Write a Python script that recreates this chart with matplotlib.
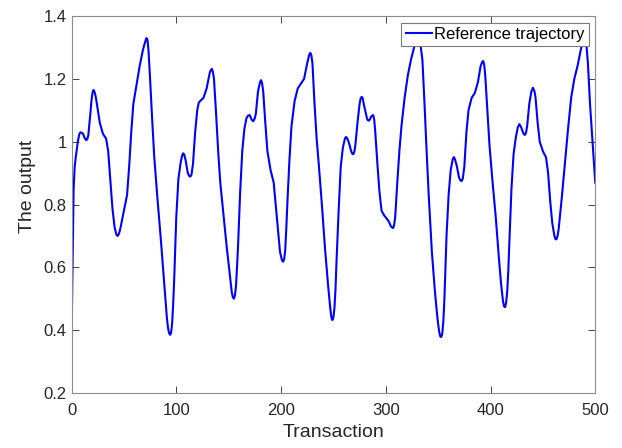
import numpy as np
import matplotlib
matplotlib.use("Agg")
import matplotlib.pyplot as plt
from matplotlib.ticker import FormatStrFormatter

# points (transaction, output)
transaction = [0, 1, 2, 3, 4, 6, 7.5, 8.5, 10, 11, 12.5, 14, 15, 16, 18, 19, 20, 21, 22, 23,
               24, 27, 30, 33, 35, 37, 39, 41, 42, 43, 44, 45, 46, 47, 50, 53, 55, 57, 59, 62,
               65, 68, 70, 71.5, 72.5, 73.5, 75, 77, 79, 82, 85, 88, 90, 91, 92, 93, 94, 95, 96, 97,
               98, 100, 102, 104, 105.5, 106.5, 107.5, 109, 111, 112.5, 113.5, 114.5, 116, 118, 120, 121.5, 123, 126, 129, 132,
               133, 134, 135, 136, 138, 140, 142, 145, 148, 151, 153, 154, 155, 156, 157, 158, 159, 161, 163, 165,
               167, 168.5, 170, 172, 173.5, 175, 176, 178, 180, 181, 182, 183, 185, 187, 190, 193, 196, 199, 200, 201,
               202, 203, 204, 205, 206, 208, 210, 213, 216, 219, 222, 225, 227, 228, 229, 230, 232, 234, 236, 239,
               242, 245, 247, 248, 249, 250, 251, 252, 253, 255, 257, 259, 261, 262, 263, 264.5, 267, 268, 269, 270,
               271, 273, 275, 276, 277, 278, 279, 282, 283, 284, 285, 286, 288, 289, 290, 292, 294, 296, 298.5, 301,
               303, 305, 307, 308, 309, 311, 313, 315, 318, 321, 324, 327, 330, 332, 335, 337, 339, 341, 344, 347,
               349, 350, 351, 352, 353, 354, 355, 356, 358, 360, 362, 364, 365, 366, 368, 370, 371.5, 372.5, 373.5, 375,
               377, 379, 382, 385, 388, 390.5, 392, 393, 394, 395, 397, 399, 402, 405, 408, 410, 411, 412, 413, 414,
               415, 416, 417, 418, 420, 422, 424, 426, 427.5, 429, 431, 432, 433, 434, 435, 437, 439, 440.5, 442, 443,
               445, 447, 450, 453, 455, 457, 459, 460, 461, 462, 463, 464, 465, 468, 471, 474, 477, 480, 483, 486,
               489, 491, 493, 495, 497, 500]
output = [0.37, 0.62, 0.85, 0.92, 0.95, 1.00, 1.025, 1.03, 1.028, 1.025, 1.012, 1.005, 1.008, 1.02, 1.09, 1.13, 1.155, 1.165, 1.158, 1.145,
          1.125, 1.06, 1.025, 1.01, 0.97, 0.88, 0.79, 0.73, 0.715, 0.703, 0.70, 0.705, 0.715, 0.73, 0.78, 0.83, 0.92, 1.03, 1.12, 1.18,
          1.24, 1.29, 1.315, 1.33, 1.325, 1.29, 1.20, 1.07, 0.95, 0.82, 0.70, 0.57, 0.48, 0.44, 0.41, 0.392, 0.385, 0.39, 0.42, 0.48,
          0.56, 0.76, 0.88, 0.93, 0.955, 0.963, 0.96, 0.94, 0.90, 0.89, 0.889, 0.895, 0.93, 1.03, 1.10, 1.125, 1.13, 1.14, 1.17, 1.22,
          1.228, 1.232, 1.222, 1.20, 1.09, 0.97, 0.87, 0.77, 0.67, 0.58, 0.52, 0.505, 0.50, 0.51, 0.54, 0.60, 0.67, 0.84, 0.97, 1.04,
          1.075, 1.083, 1.085, 1.07, 1.065, 1.075, 1.09, 1.16, 1.19, 1.196, 1.185, 1.16, 1.06, 0.97, 0.91, 0.87, 0.76, 0.65, 0.635, 0.622,
          0.618, 0.625, 0.655, 0.72, 0.80, 0.94, 1.05, 1.13, 1.17, 1.185, 1.20, 1.25, 1.278, 1.283, 1.275, 1.25, 1.12, 1.01, 0.93, 0.80,
          0.66, 0.54, 0.47, 0.442, 0.432, 0.44, 0.47, 0.53, 0.62, 0.78, 0.92, 0.98, 1.01, 1.015, 1.012, 1.00, 0.97, 0.962, 0.96, 0.968,
          0.99, 1.06, 1.12, 1.138, 1.143, 1.138, 1.12, 1.075, 1.068, 1.067, 1.072, 1.08, 1.085, 1.07, 1.03, 0.93, 0.84, 0.78, 0.765, 0.755,
          0.745, 0.73, 0.725, 0.735, 0.76, 0.87, 0.97, 1.05, 1.14, 1.21, 1.26, 1.30, 1.33, 1.34, 1.26, 1.12, 0.97, 0.83, 0.65, 0.52,
          0.45, 0.42, 0.395, 0.38, 0.378, 0.39, 0.43, 0.50, 0.70, 0.83, 0.91, 0.945, 0.951, 0.945, 0.92, 0.885, 0.876, 0.875, 0.882, 0.92,
          1.03, 1.10, 1.14, 1.155, 1.19, 1.24, 1.254, 1.257, 1.245, 1.21, 1.10, 0.99, 0.87, 0.76, 0.63, 0.55, 0.52, 0.49, 0.475, 0.473,
          0.49, 0.525, 0.59, 0.68, 0.85, 0.96, 1.01, 1.045, 1.056, 1.048, 1.03, 1.023, 1.022, 1.03, 1.05, 1.12, 1.16, 1.172, 1.16, 1.14,
          1.06, 1.00, 0.97, 0.95, 0.90, 0.81, 0.74, 0.72, 0.70, 0.69, 0.689, 0.70, 0.72, 0.82, 0.93, 1.04, 1.14, 1.20, 1.24, 1.29,
          1.33, 1.33, 1.25, 1.12, 1.02, 0.87]

x_ticks = [0, 100, 200, 300, 400, 500]
y_ticks = [0.2, 0.4, 0.6, 0.8, 1.0, 1.2, 1.4]

plt.rcParams["font.family"] = ["Liberation Sans", "DejaVu Sans"]

fig = plt.figure(figsize=(6.22, 4.48), dpi=100)
ax = fig.add_axes([0.115, 0.123, 0.842, 0.841])
ax.plot(transaction, output, color="#0000ff", linewidth=1.5, solid_joinstyle="round",
        label="Reference trajectory")

ax.set_xlim(0, 500)
ax.set_ylim(0.2, 1.4)
ax.set_xticks(x_ticks)
ax.set_yticks(y_ticks)
ax.yaxis.set_major_formatter(FormatStrFormatter("%g"))
ax.tick_params(direction="in", top=True, right=True, labelsize=12, labelcolor="#262626",
               color="#262626", length=5, width=0.6)
ax.tick_params(axis="x", pad=7.5)
for s in ax.spines.values():
    s.set_color("#8c8c8c")
    s.set_linewidth(0.8)

ax.set_xlabel("Transaction", fontsize=14, color="#262626")
ax.set_ylabel("The output", fontsize=14, color="#262626")
ax.xaxis.set_label_coords(0.5, -0.082)
ax.yaxis.set_label_coords(-0.068, 0.549)

leg = ax.legend(loc="upper right", fontsize=12, handlelength=1.6, handletextpad=0.1,
                borderpad=0.25, borderaxespad=0.4, fancybox=False, framealpha=1)
leg.get_frame().set_edgecolor("#7a7a7a")
leg.get_frame().set_linewidth(0.8)

fig.savefig("out.png", dpi=100)
plt.close(fig)
